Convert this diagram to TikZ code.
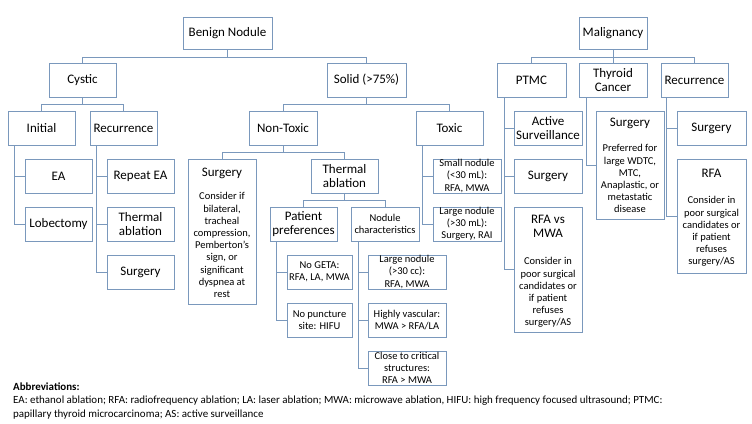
\documentclass[tikz,border=0pt]{standalone}
\usepackage{fontspec}
\setmainfont{Carlito}
\definecolor{bc}{RGB}{122,152,188}
\newcommand\fbig{\fontsize{13}{14.5}\selectfont}
\newcommand\fsm{\fontsize{10.5}{12.2}\selectfont}
\newcommand\fab{\fontsize{10.95}{13}\selectfont}
\tikzset{
  box/.style={draw=bc, line width=0.9pt, inner sep=0pt, align=center, font=\fbig, text=black},
  sbox/.style={box, font=\fsm},
  txt/.style={inner sep=0pt, align=center, text=black},
  conn/.style={draw=bc, line width=0.9pt},
}
\begin{document}
\begin{tikzpicture}[x=1pt,y=-1pt]
\useasboundingbox (0,0) rectangle (752,423);
% level 0
\node[box, minimum width=89pt, minimum height=32pt] (benign) at (227.5,33) {Benign Nodule};
\node[box, minimum width=68pt, minimum height=32pt] (malig) at (613,33) {Malignancy};
% level 1
\node[box, minimum width=67pt, minimum height=34pt] (cystic) at (82.5,80) {Cystic};
\node[box, minimum width=79pt, minimum height=34pt] (solid) at (366.5,80) {Solid (>75\%)};
\node[box, minimum width=69pt, minimum height=34pt] (ptmc) at (531.5,80) {PTMC};
\node[box, minimum width=68pt, minimum height=34pt] (thyca) at (613,80) {Thyroid\\Cancer};
\node[box, minimum width=67pt, minimum height=34pt] (rec2) at (694.5,80) {Recurrence};
% level 2
\node[box, minimum width=67pt, minimum height=34pt] (initial) at (41.5,128) {Initial};
\node[box, minimum width=67pt, minimum height=34pt] (rec1) at (123.5,128) {Recurrence};
\node[box, minimum width=68pt, minimum height=34pt] (nontox) at (283,128) {Non-Toxic};
\node[box, minimum width=67pt, minimum height=34pt] (toxic) at (449.5,128) {Toxic};
\node[box, minimum width=68pt, minimum height=34pt] (actsurv) at (548,128) {Active\\Surveillance};
\node[box, minimum width=68pt, minimum height=108pt] (thysurg) at (630,165) {};
\node[box, minimum width=69pt, minimum height=34pt] (surg3) at (711.5,128) {Surgery};
% level 3
\node[box, minimum width=67pt, minimum height=34pt] (ea) at (58.5,176) {EA};
\node[box, minimum width=67pt, minimum height=34pt] (repea) at (140.5,176) {Repeat EA};
\node[box, minimum width=68pt, minimum height=145pt] (surg2) at (222,231.5) {};
\node[box, minimum width=67pt, minimum height=34pt] (therm2) at (344.5,176) {Thermal\\ablation};
\node[sbox, minimum width=68pt, minimum height=34pt] (small) at (467,176) {Small nodule\\(<30 mL):\\RFA, MWA};
\node[box, minimum width=68pt, minimum height=34pt] (ptmcsurg) at (548,176) {Surgery};
\node[box, minimum width=69pt, minimum height=114pt] (rfa3) at (711.5,216) {};
% level 4
\node[box, minimum width=67pt, minimum height=34pt] (lob) at (58.5,224) {Lobectomy};
\node[box, minimum width=67pt, minimum height=34pt] (therm1) at (140.5,224) {Thermal\\ablation};
\node[box, minimum width=67pt, minimum height=34pt] (patpref) at (303.5,224) {Patient\\preferences};
\node[sbox, minimum width=68pt, minimum height=34pt] (nodchar) at (385,224) {Nodule\\characteristics};
\node[sbox, minimum width=68pt, minimum height=34pt] (large1) at (467,224) {Large nodule\\(>30 mL):\\Surgery, RAI};
\node[box, minimum width=68pt, minimum height=125pt] (rfamwa) at (548,269.5) {};
% level 5
\node[box, minimum width=67pt, minimum height=34pt] (surg1) at (140.5,272) {Surgery};
\node[sbox, minimum width=65pt, minimum height=34pt] (nogeta) at (319.5,272) {No GETA:\\RFA, LA, MWA};
\node[sbox, minimum width=78pt, minimum height=34pt] (large2) at (407,272) {Large nodule\\(>30 cc):\\RFA, MWA};
\node[sbox, minimum width=65pt, minimum height=34pt] (nopunct) at (319.5,320) {No puncture\\site: HIFU};
\node[sbox, minimum width=78pt, minimum height=34pt] (vasc) at (407,320) {Highly vascular:\\MWA > RFA/LA};
\node[sbox, minimum width=78pt, minimum height=34pt] (close) at (407,368) {Close to critical\\structures:\\RFA > MWA};
% texts of tall boxes
\node[txt, font=\fbig, anchor=base] (surg2h) at (222,176) {Surgery};
\node[txt, font=\fsm, anchor=north] (surg2b) at (222,192.5) {Consider if\\bilateral,\\tracheal\\compression,\\Pemberton's\\sign, or\\significant\\dyspnea at\\rest};
\node[txt, font=\fbig, anchor=base] (thysurgh) at (630,126) {Surgery};
\node[txt, font=\fsm, anchor=north] (thysurgb) at (630,144.5) {Preferred for\\large WDTC,\\MTC,\\Anaplastic, or\\metastatic\\disease};
\node[txt, font=\fbig, anchor=base] (rfa3h) at (711.5,177) {RFA};
\node[txt, font=\fsm, anchor=north] (rfa3b) at (711.5,196.5) {Consider in\\poor surgical\\candidates or\\if patient\\refuses\\surgery/AS};
\node[txt, font=\fbig, anchor=north] (rfamwah) at (548,214.8) {RFA vs\\MWA};
\node[txt, font=\fsm, anchor=north] (rfamwab) at (548,257.5) {Consider in\\poor surgical\\candidates or\\if patient\\refuses\\surgery/AS};
% connectors
\draw[conn] (benign.south) -- ++(0,7.5) coordinate (b1);
\draw[conn] (cystic.north) |- (b1) -| (solid.north);
\draw[conn] (cystic.south) -- ++(0,7) coordinate (c1);
\draw[conn] (initial.north) |- (c1) -| (rec1.north);
\draw[conn] ([xshift=7pt]initial.south west) |- (ea.west);
\draw[conn] ([xshift=7pt]initial.south west) |- (lob.west);
\draw[conn] ([xshift=7pt]rec1.south west) |- (repea.west);
\draw[conn] ([xshift=7pt]rec1.south west) |- (therm1.west);
\draw[conn] ([xshift=7pt]rec1.south west) |- (surg1.west);
\draw[conn] (solid.south) -- ++(0,7) coordinate (s1);
\draw[conn] (nontox.north) |- (s1) -| (toxic.north);
\draw[conn] (nontox.south) -- ++(0,7) coordinate (n1);
\draw[conn] (surg2.north) |- (n1) -| (therm2.north);
\draw[conn] ([xshift=7pt]toxic.south west) |- (small.west);
\draw[conn] ([xshift=7pt]toxic.south west) |- (large1.west);
\draw[conn] (therm2.south) -- ++(0,7) coordinate (t1);
\draw[conn] (patpref.north) |- (t1) -| (nodchar.north);
\draw[conn] ([xshift=7pt]patpref.south west) |- (nogeta.west);
\draw[conn] ([xshift=7pt]patpref.south west) |- (nopunct.west);
\draw[conn] ([xshift=8pt]nodchar.south west) |- (large2.west);
\draw[conn] ([xshift=8pt]nodchar.south west) |- (vasc.west);
\draw[conn] ([xshift=8pt]nodchar.south west) |- (close.west);
\draw[conn] (malig.south) -- (thyca.north);
\draw[conn] (malig.south) -- ++(0,7.5) coordinate (m1);
\draw[conn] (ptmc.north) |- (m1) -| (rec2.north);
\draw[conn] ([xshift=8pt]ptmc.south west) |- (actsurv.west);
\draw[conn] ([xshift=8pt]ptmc.south west) |- (ptmcsurg.west);
\draw[conn] ([xshift=8pt]ptmc.south west) |- (rfamwa.west);
\draw[conn] ([xshift=8pt]thyca.south west) |- (thysurg.west);
\draw[conn] ([xshift=6pt]rec2.south west) |- (surg3.west);
\draw[conn] ([xshift=6pt]rec2.south west) |- (rfa3.west);
% abbreviations
\node[txt, font=\fab\bfseries, anchor=base west] (abb1) at (13,390) {Abbreviations:};
\node[txt, font=\fab, anchor=base west] (abb2) at (13,403.5) {EA: ethanol ablation; RFA: radiofrequency ablation; LA: laser ablation; MWA: microwave ablation, HIFU: high frequency focused ultrasound; PTMC:};
\node[txt, font=\fab, anchor=base west] (abb3) at (13,417) {papillary thyroid microcarcinoma; AS: active surveillance};
\end{tikzpicture}
\end{document}
